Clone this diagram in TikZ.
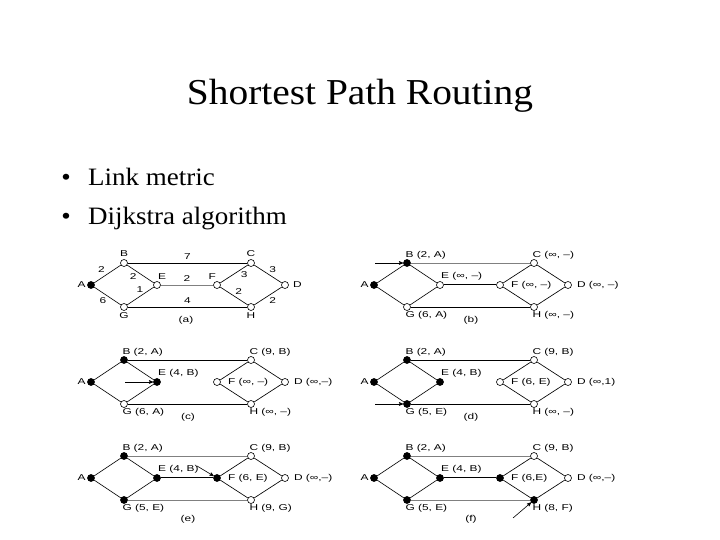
\documentclass[tikz,border=0pt]{standalone}
\usepackage{fontspec}
\setmainfont[FakeStretch=1.08]{Liberation Serif}
\newfontfamily\figfont[FakeStretch=1.4]{Liberation Sans}
\usetikzlibrary{arrows,positioning}
\tikzset{
  router/.style = {circle, draw, inner sep=0pt, minimum size=7pt,
    line width=0.6pt},
  router_w/.style = {router, fill=white},% tentative node
  router_b/.style = {router, fill=black},% permanent node
  tag/.style = {font=\figfont\fontsize{8.5}{10}\selectfont, inner sep=1pt,
    text=black},
  link/.style = {line width=0.65pt},
  link_t/.style = {line width=1pt},% working path
  link_l/.style = {draw=gray, line width=0.5pt},% faint scan line
  probe/.style = {->, >=stealth', line width=0.6pt},
  title/.style = {font=\fontsize{36.5}{40}\selectfont, anchor=base},
  item/.style = {font=\fontsize{25}{28}\selectfont, inner sep=0pt}
}

\begin{document}
\begin{tikzpicture}[x=1pt,y=1pt]
\useasboundingbox (0,0) rectangle (720,540);
\node[title] (head) at (360,435) {Shortest Path Routing};
\node[item, anchor=base] (dot1) at (66,354) {\textbullet};
\node[item, anchor=base west] (line1) at (88,354) {Link metric};
\node[item, anchor=base] (dot2) at (66,315) {\textbullet};
\node[item, anchor=base west] (line2) at (88,315) {Dijkstra algorithm};

% (a) the network with its link weights
\begin{scope}[shift={(91,255)}, name prefix=a-]
\foreach \n/\x/\y/\s in {A/0/0/router_b, B/33/22/router_w, E/66/0/router_w,
  F/126/0/router_w, C/160/22/router_w, D/194/0/router_w,
  G/33/-22/router_w, H/160/-22/router_w}
  \node[\s] (\n) at (\x,\y) {};
\draw[link] (A) -- node[tag, above left=0pt and 1.5pt] (w1) {2} (B);
\draw[link] (A) -- node[tag, below left] (w2) {6} (G);
\draw[link] (B) -- node[tag, pos=0.4, below left] (w3) {2} (E);
\draw[link] (G) -- node[tag, pos=0.65, above left=0pt] (w4) {1} (E);
\draw[link] (B) -- node[tag, above=2.5pt] (w5) {7} (C);
\draw[link_l] (E) -- node[tag, above=2.5pt] (w6) {2} (F);
\draw[link] (G) -- node[tag, above=2.5pt] (w7) {4} (H);
\draw[link] (F) -- node[tag, pos=0.7, below right] (w8) {3} (C);
\draw[link] (C) -- node[tag, above right] (w9) {3} (D);
\draw[link] (F) -- node[tag, above right] (w10) {2} (H);
\draw[link] (H) -- node[tag, below right] (w11) {2} (D);
\node[tag, left=0.5pt of A] (At) {A};
\node[tag, above=1pt of B] (Bt) {B};
\node[tag, above=1pt of C] (Ct) {C};
\node[tag, anchor=south west] (Et) at (E.north) {E};
\node[tag, anchor=south east] (Ft) at (F.north) {F};
\node[tag, right=3pt of D] (Dt) {D};
\node[tag, below=1pt of G] (Gt) {G};
\node[tag, below=1pt of H] (Ht) {H};
\node[tag] (cap) at (95,-35) {(a)};
\end{scope}

% (b) B made permanent
\begin{scope}[shift={(374,255)}, name prefix=b-]
\foreach \n/\x/\y/\s in {A/0/0/router_b, B/33/22/router_b, E/66/0/router_w,
  F/126/0/router_w, C/160/22/router_w, D/194/0/router_w,
  G/33/-22/router_w, H/160/-22/router_w}
  \node[\s] (\n) at (\x,\y) {};
\foreach \u/\v in {A/B, A/G, B/E, G/E, G/H, F/C, F/H, C/D, H/D}
  \draw[link] (\u) -- (\v);
\draw[link_l] (B) -- (C);
\draw[link_t] (E) -- (F);
\node[tag, left=0.5pt of A] (At) {A};
\node[tag, anchor=south west] (Bt) at (B.north west) {B (2, A)};
\node[tag, anchor=south west] (Ct) at (C.north west) {C (∞, –)};
\node[tag, anchor=south west] (Et) at (E.north) {E (∞, –)};
\node[tag, right=6pt of F] (Ft) {F (∞, –)};
\node[tag, right=4pt of D] (Dt) {D (∞, –)};
\node[tag, anchor=north west] (Gt) at (G.south west) {G (6, A)};
\node[tag, anchor=north west] (Ht) at (H.south west) {H (∞, –)};
\node[tag] (cap) at (97,-35) {(b)};
\coordinate (src) at (1,22);
\draw[probe] (src) -- (B);
\end{scope}

% (c) E made permanent
\begin{scope}[shift={(91,158)}, name prefix=c-]
\foreach \n/\x/\y/\s in {A/0/0/router_b, B/33/22/router_b, E/66/0/router_b,
  F/126/0/router_w, C/160/22/router_w, D/194/0/router_w,
  G/33/-22/router_w, H/160/-22/router_w}
  \node[\s] (\n) at (\x,\y) {};
\foreach \u/\v in {A/B, A/G, B/E, G/E, B/C, G/H, F/C, F/H, C/D, H/D}
  \draw[link] (\u) -- (\v);
\node[tag, left=0.5pt of A] (At) {A};
\node[tag, anchor=south west] (Bt) at (B.north west) {B (2, A)};
\node[tag, anchor=south west] (Ct) at (C.north west) {C (9, B)};
\node[tag, anchor=south west] (Et) at (E.north) {E (4, B)};
\node[tag, right=6pt of F] (Ft) {F (∞, –)};
\node[tag, right=4pt of D] (Dt) {D (∞,–)};
\node[tag, anchor=north west] (Gt) at (G.south west) {G (6, A)};
\node[tag, anchor=north west] (Ht) at (H.south west) {H (∞, –)};
\node[tag] (cap) at (97,-35) {(c)};
\coordinate (src) at (34,0);
\draw[probe] (src) -- (E);
\end{scope}

% (d) G made permanent
\begin{scope}[shift={(374,158)}, name prefix=d-]
\foreach \n/\x/\y/\s in {A/0/0/router_b, B/33/22/router_b, E/66/0/router_b,
  F/126/0/router_w, C/160/22/router_w, D/194/0/router_w,
  G/33/-22/router_b, H/160/-22/router_w}
  \node[\s] (\n) at (\x,\y) {};
\foreach \u/\v in {A/B, A/G, B/E, G/E, B/C, G/H, F/C, F/H, C/D, H/D}
  \draw[link] (\u) -- (\v);
\node[tag, left=0.5pt of A] (At) {A};
\node[tag, anchor=south west] (Bt) at (B.north west) {B (2, A)};
\node[tag, anchor=south west] (Ct) at (C.north west) {C (9, B)};
\node[tag, anchor=south west] (Et) at (E.north) {E (4, B)};
\node[tag, right=6pt of F] (Ft) {F (6, E)};
\node[tag, right=4pt of D] (Dt) {D (∞,1)};
\node[tag, anchor=north west] (Gt) at (G.south west) {G (5, E)};
\node[tag, anchor=north west] (Ht) at (H.south west) {H (∞, –)};
\node[tag] (cap) at (97,-35) {(d)};
\coordinate (src) at (1,-22);
\draw[probe] (src) -- (G);
\end{scope}

% (e) F made permanent
\begin{scope}[shift={(91,62)}, name prefix=e-]
\foreach \n/\x/\y/\s in {A/0/0/router_b, B/33/22/router_b, E/66/0/router_b,
  F/126/0/router_b, C/160/22/router_w, D/194/0/router_w,
  G/33/-22/router_b, H/160/-22/router_w}
  \node[\s] (\n) at (\x,\y) {};
\foreach \u/\v in {A/B, A/G, B/E, G/E, F/C, F/H, C/D, H/D}
  \draw[link] (\u) -- (\v);
\draw[link_l] (B) -- (C);
\draw[link_l] (G) -- (H);
\draw[link_t] (E) -- (F);
\node[tag, left=0.5pt of A] (At) {A};
\node[tag, anchor=south west] (Bt) at (B.north west) {B (2, A)};
\node[tag, anchor=south west] (Ct) at (C.north west) {C (9, B)};
\node[tag, anchor=south west] (Et) at (E.north) {E (4, B)};
\node[tag, right=6pt of F] (Ft) {F (6, E)};
\node[tag, right=4pt of D] (Dt) {D (∞,–)};
\node[tag, anchor=north west] (Gt) at (G.south west) {G (5, E)};
\node[tag, anchor=north west] (Ht) at (H.south west) {H (9, G)};
\node[tag] (cap) at (97,-41) {(e)};
\coordinate (src) at (106,12);
\draw[probe] (src) -- (F);
\end{scope}

% (f) H made permanent
\begin{scope}[shift={(374,62)}, name prefix=f-]
\foreach \n/\x/\y/\s in {A/0/0/router_b, B/33/22/router_b, E/66/0/router_b,
  F/126/0/router_b, C/160/22/router_w, D/194/0/router_w,
  G/33/-22/router_b, H/160/-22/router_b}
  \node[\s] (\n) at (\x,\y) {};
\foreach \u/\v in {A/B, A/G, B/E, G/E, F/C, F/H, C/D, H/D}
  \draw[link] (\u) -- (\v);
\draw[link_l] (B) -- (C);
\draw[link_l] (G) -- (H);
\draw[link_t] (E) -- (F);
\node[tag, left=0.5pt of A] (At) {A};
\node[tag, anchor=south west] (Bt) at (B.north west) {B (2, A)};
\node[tag, anchor=south west] (Ct) at (C.north west) {C (9, B)};
\node[tag, anchor=south west] (Et) at (E.north) {E (4, B)};
\node[tag, right=6pt of F] (Ft) {F (6,E)};
\node[tag, right=4pt of D] (Dt) {D (∞,–)};
\node[tag, anchor=north west] (Gt) at (G.south west) {G (5, E)};
\node[tag, anchor=north west] (Ht) at (H.south west) {H (8, F)};
\node[tag] (cap) at (97,-41) {(f)};
\coordinate (src) at (139,-40);
\draw[probe] (src) -- (H);
\end{scope}
\end{tikzpicture}
\end{document}
